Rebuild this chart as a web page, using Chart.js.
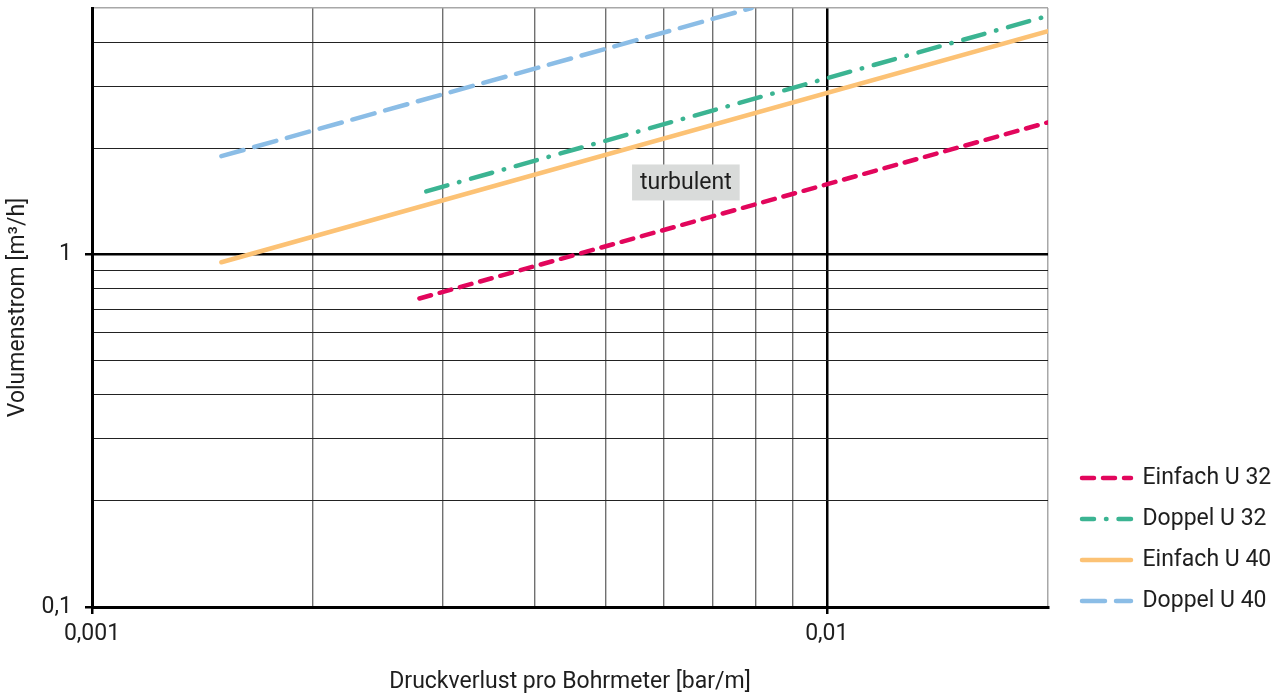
<!DOCTYPE html>
<html lang="de">
<head>
<meta charset="utf-8">
<title>Druckverlust pro Bohrmeter</title>
<script src="https://cdn.jsdelivr.net/npm/chart.js@4.4.1/dist/chart.umd.min.js"></script>
<style>
html, body { margin:0; padding:0; background:#fff; overflow:hidden; }
canvas { display:block; }
</style>
</head>
<body>
<canvas id="chart" width="1286" height="698"></canvas>
<script>
// ---------- data ----------
const seriesNames = ['Einfach U 32', 'Doppel U 32', 'Einfach U 40', 'Doppel U 40'];
const einfachU32X = [0.00279, 0.02];
const einfachU32Y = [0.75, 2.37];
const doppelU32X  = [0.00285, 0.02];
const doppelU32Y  = [1.51, 4.75];
const einfachU40X = [0.0015, 0.02];
const einfachU40Y = [0.95, 4.30];
const doppelU40X  = [0.0015, 0.0079];
const doppelU40Y  = [1.9, 5.0];

const xGridValues = [0.001, 0.002, 0.003, 0.004, 0.005, 0.006, 0.007, 0.008, 0.009, 0.01, 0.02];
const yGridValues = [0.1, 0.2, 0.3, 0.4, 0.5, 0.6, 0.7, 0.8, 0.9, 1, 2, 3, 4, 5];
const xTickValues = [0.001, 0.01];
const xTickLabels = ['0,001', '0,01'];
const yTickValues = [0.1, 1];
const yTickLabels = ['0,1', '1'];
const xAxisTitle = 'Druckverlust pro Bohrmeter [bar/m]';
const yAxisTitle = 'Volumenstrom [m³/h]';
const noteText = 'turbulent';
const noteX = 0.00643;
const noteY = 1.6;

// ---------- helpers ----------
const same = (a, b) => Math.abs(a - b) / b < 1e-6;
const labelFor = (v, vals, labels) => {
  const i = vals.findIndex(t => same(v, t));
  return i >= 0 ? labels[i] : '';
};
const toPoints = (xs, ys) => xs.map((x, i) => ({ x, y: ys[i] }));

const FONT = 'Roboto';
const WEIGHT = 400;
const FSIZE = 23;
const TEXT = '#1e1e1e';
Chart.defaults.font.family = FONT;
Chart.defaults.font.size = FSIZE;
Chart.defaults.font.weight = WEIGHT;
Chart.defaults.color = TEXT;

const styles = [
  { color: '#e2065c', dash: [12, 9], legendOffset: 0 },
  { color: '#3bb492', dash: [22, 12, 0.5, 12], legendOffset: 10 },
  { color: '#fcc275', dash: [], legendOffset: 0 },
  { color: '#8bbde6', dash: [23, 11], legendOffset: 0 }
];
const series = [
  toPoints(einfachU32X, einfachU32Y),
  toPoints(doppelU32X, doppelU32Y),
  toPoints(einfachU40X, einfachU40Y),
  toPoints(doppelU40X, doppelU40Y)
];

const datasets = series.map((pts, i) => ({
  label: seriesNames[i],
  data: pts,
  borderColor: styles[i].color,
  backgroundColor: styles[i].color,
  borderWidth: 4.5,
  borderDash: styles[i].dash,
  borderCapStyle: 'round',
  pointRadius: 0,
  pointHoverRadius: 0,
  fill: false,
  tension: 0
}));

// label box for "turbulent"
const notePlugin = {
  id: 'noteLabel',
  beforeDatasetsDraw(chart) {
    const { ctx, scales: { x, y } } = chart;
    const cx = x.getPixelForValue(noteX);
    const cy = y.getPixelForValue(noteY);
    ctx.save();
    ctx.font = WEIGHT + ' ' + FSIZE + 'px ' + FONT;
    const w = ctx.measureText(noteText).width;
    const padX = 8, h = 36;
    ctx.fillStyle = '#d9dbda';
    ctx.fillRect(cx - w / 2 - padX, cy - h / 2, w + 2 * padX, h);
    ctx.fillStyle = TEXT;
    ctx.textAlign = 'center';
    ctx.textBaseline = 'middle';
    ctx.fillText(noteText, cx, cy + 1);
    ctx.restore();
  }
};

// legend sizing / placement
const legendPlacement = {
  id: 'legendPlacement',
  beforeLayout(chart) {
    const lg = chart.legend;
    if (lg && !lg.__patched) {
      const origFit = lg.fit.bind(lg);
      lg.fit = function () { origFit(); this.width = 238; };
      lg.__patched = true;
    }
  },
  afterLayout(chart) {
    const lg = chart.legend;
    if (!lg) return;
    lg.top += 23.5; lg.bottom += 23.5;
    lg.left += 16; lg.right += 16;
  }
};

const gridColor = (kind) => (ctx) => {
  const v = ctx.tick ? ctx.tick.value : null;
  if (v == null) return 'rgba(0,0,0,0)';
  if (kind === 'x') {
    if (same(v, 0.01) || same(v, 0.001)) return '#000';
    if (same(v, 0.02)) return '#a8a8a8';
    return '#707070';
  } else {
    if (same(v, 1) || same(v, 0.1)) return '#000';
    if (same(v, 5)) return '#a8a8a8';
    return '#222';
  }
};
const gridWidth = (kind) => (ctx) => {
  const v = ctx.tick ? ctx.tick.value : null;
  if (v == null) return 1;
  if (kind === 'x') {
    if (same(v, 0.01) || same(v, 0.001)) return 2.5;
    if (same(v, 0.02)) return 1.5;
    return 1.4;
  } else {
    if (same(v, 1) || same(v, 0.1)) return 2.5;
    if (same(v, 5)) return 1.5;
    return 1;
  }
};

const fontSpec = { family: FONT, size: FSIZE, weight: WEIGHT };

new Chart(document.getElementById('chart'), {
  type: 'line',
  data: { datasets },
  plugins: [notePlugin, legendPlacement],
  options: {
    responsive: false,
    animation: false,
    devicePixelRatio: 1,
    layout: { padding: { top: 8, left: 0, right: 0, bottom: 0 } },
    plugins: {
      tooltip: { enabled: false },
      legend: {
        position: 'right',
        align: 'end',
        fullSize: false,
        labels: {
          usePointStyle: true,
          pointStyle: 'line',
          pointStyleWidth: 49,
          padding: 18,
          color: TEXT,
          font: fontSpec,
          generateLabels: (chart) => chart.data.datasets.map((ds, i) => ({
            text: ds.label,
            datasetIndex: i,
            hidden: false,
            fillStyle: ds.borderColor,
            strokeStyle: ds.borderColor,
            fontColor: TEXT,
            lineWidth: ds.borderWidth,
            lineDash: ds.borderDash,
            lineDashOffset: styles[i].legendOffset,
            lineCap: ds.borderCapStyle,
            lineJoin: 'round',
            pointStyle: 'line',
            rotation: 0
          }))
        }
      }
    },
    scales: {
      x: {
        type: 'logarithmic',
        position: 'bottom',
        min: 0.001,
        max: 0.02,
        afterBuildTicks: (s) => { s.ticks = xGridValues.map(v => ({ value: v })); },
        afterFit: (s) => { s.height = 91; s.paddingLeft = 0; s.paddingRight = 0; },
        ticks: {
          autoSkip: false,
          maxRotation: 0,
          padding: 6,
          color: TEXT,
          font: fontSpec,
          callback: (v) => labelFor(v, xTickValues, xTickLabels)
        },
        grid: {
          drawOnChartArea: true,
          drawTicks: true,
          tickLength: 7,
          color: gridColor('x'),
          lineWidth: gridWidth('x'),
          tickColor: (ctx) => (ctx.tick && labelFor(ctx.tick.value, xTickValues, xTickLabels)) ? '#000' : 'rgba(0,0,0,0)'
        },
        border: { display: true, color: '#000', width: 3 },
        title: {
          display: true,
          text: xAxisTitle,
          color: TEXT,
          font: fontSpec,
          padding: { top: 0, bottom: 2 }
        }
      },
      y: {
        type: 'logarithmic',
        position: 'left',
        min: 0.1,
        max: 5,
        afterBuildTicks: (s) => { s.ticks = yGridValues.map(v => ({ value: v })); },
        afterFit: (s) => { s.width = 92; s.paddingTop = 0; s.paddingBottom = 0; },
        ticks: {
          autoSkip: false,
          padding: 13,
          color: TEXT,
          font: fontSpec,
          callback: (v) => labelFor(v, yTickValues, yTickLabels)
        },
        grid: {
          drawOnChartArea: true,
          drawTicks: true,
          tickLength: 7,
          color: gridColor('y'),
          lineWidth: gridWidth('y'),
          tickColor: (ctx) => (ctx.tick && labelFor(ctx.tick.value, yTickValues, yTickLabels)) ? '#000' : 'rgba(0,0,0,0)'
        },
        border: { display: true, color: '#000', width: 3 },
        title: {
          display: true,
          text: yAxisTitle,
          color: TEXT,
          font: fontSpec,
          padding: { top: 4, bottom: 0 }
        }
      }
    }
  }
});
</script>
</body>
</html>
